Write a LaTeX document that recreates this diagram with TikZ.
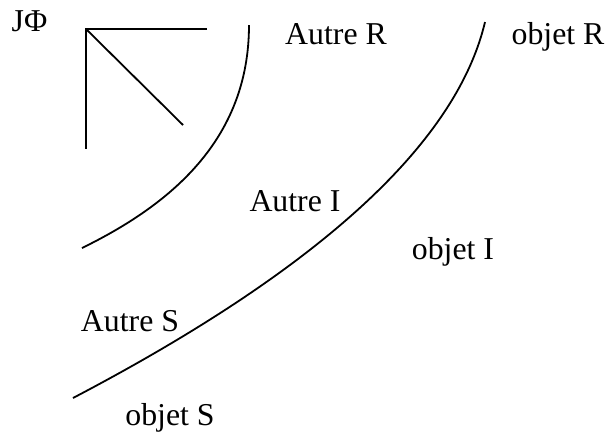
\documentclass[tikz,border=0pt]{standalone}
\usepackage{fontspec}
\setmainfont{Liberation Serif}
\begin{document}
\begin{tikzpicture}[
  x=0.5pt, y=-0.5pt,
  lbl/.style={anchor=base, inner sep=0pt, font=\fontsize{15.9}{18}\selectfont},
  trait/.style={draw=black, line width=0.9pt},
]
\useasboundingbox (0,0) rectangle (611,436);

% symbole en coin
\coordinate (coin) at (86,29);
\coordinate (coinh) at (207,29);
\coordinate (coinv) at (86,149);
\coordinate (coind) at (183,125);
\draw[trait] (coinh) -- (coin) -- (coinv);
\draw[trait] (coin) -- (coind);

% courbes
\draw[trait] (249,25) .. controls (249,140) and (170,205) .. (82,248);
\draw[trait] (485,22) .. controls (450,170) and (260,300) .. (73,398);

\node[lbl] (jphi) at (29.5,31.7) {JΦ};
\node[lbl] (autreR) at (336,44) {Autre R};
\node[lbl] (objetR) at (558,44) {objet R};
\node[lbl] (autreI) at (295,211.7) {Autre I};
\node[lbl] (objetI) at (453,259) {objet I};
\node[lbl] (autreS) at (130,331.7) {Autre S};
\node[lbl] (objetS) at (170,425) {objet S};

\end{tikzpicture}
\end{document}
